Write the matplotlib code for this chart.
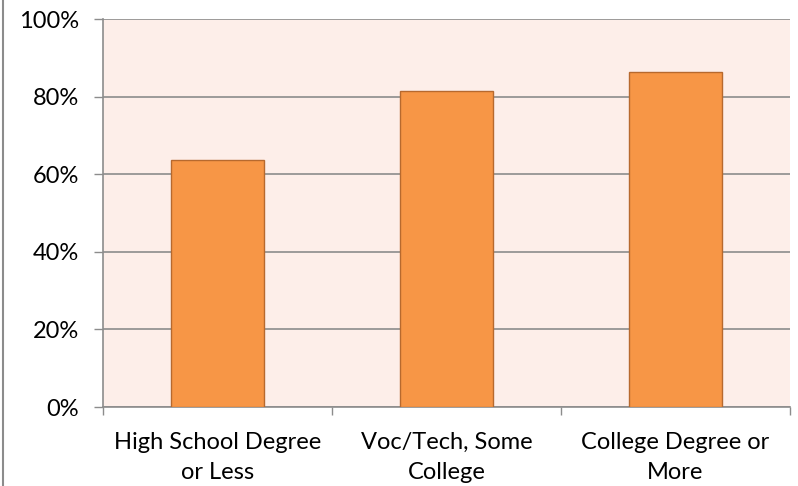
import matplotlib.pyplot as plt
from matplotlib.lines import Line2D

kategorije = ["High School Degree\nor Less", "Voc/Tech, Some\nCollege", "College Degree or\nMore"]
vrednosti = [63.7, 81.5, 86.3]
y_ticki = [0, 20, 40, 60, 80, 100]

plt.rcParams['font.family'] = ['Lato', 'DejaVu Sans']

fig = plt.figure(figsize=[7.98, 4.86], dpi=100)
ax = fig.add_axes([103/798, 79/486, 687/798, 388/486])
ax.set_facecolor('#FDEEE9')

x = list(range(len(kategorije)))
ax.bar(x, vrednosti, width=0.41, color='#F79646', edgecolor='#B7692E', linewidth=1, zorder=3)

ax.set_xlim(-0.5, 2.5)
ax.set_ylim(0, 100)
ax.set_yticks(y_ticki)
ax.set_yticklabels([f"{v}%" for v in y_ticki], fontsize=17)
ax.yaxis.grid(True, color='#8C8C8C', linewidth=1.2, zorder=1)

ax.set_xticks(x)
ax.set_xticklabels(kategorije, fontsize=17, linespacing=1.5)
ax.tick_params(axis='x', which='major', length=0, pad=18)
ax.set_xticks([-0.5, 0.5, 1.5, 2.5], minor=True)
ax.tick_params(axis='x', which='minor', length=6, color='#8C8C8C', width=1)
ax.tick_params(axis='y', length=6.5, color='#8C8C8C', width=1, pad=11)

for s in ['top', 'right']:
    ax.spines[s].set_visible(False)
for s in ['left', 'bottom']:
    ax.spines[s].set_color('#8C8C8C')
    ax.spines[s].set_linewidth(1.2)

# robna crta na levi
fig.add_artist(Line2D([2.5/798, 2.5/798], [0, 1], color='#8C8C8C', linewidth=1.5))

plt.savefig("out.png", dpi=100)
